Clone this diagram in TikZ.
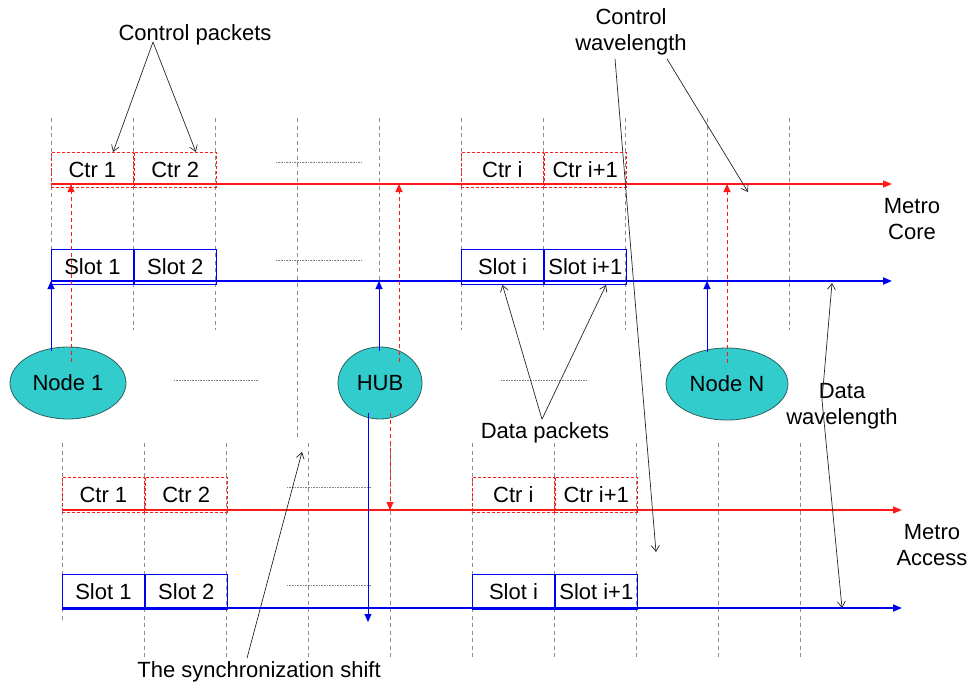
\documentclass[tikz,border=0pt]{standalone}
\usepackage{fontspec}
\setmainfont{Liberation Sans}
\usetikzlibrary{arrows.meta,positioning,shapes.geometric,calc}

\definecolor{nodefill}{HTML}{33CCCC}
\definecolor{nodeedge}{HTML}{2E6262}
\definecolor{ctrred}{HTML}{FF1A1A}
\definecolor{datablue}{HTML}{0000F0}

\tikzset{
    grid line/.style={gray!90,dash pattern=on 4pt off 3.5pt,line width=0.6pt},
    sepline/.style={gray,dash pattern=on 1pt off 0.6pt,line width=0.9pt},
    ctrbox/.style={draw=ctrred,dash pattern=on 3pt off 2pt,line width=0.8pt,
        minimum width=82pt,minimum height=35pt,inner sep=0pt},
    slotbox/.style={draw=datablue,line width=0.9pt,
        minimum width=82pt,minimum height=35pt,inner sep=0pt},
    ctrline/.style={ctrred,line width=1.1pt,-{Triangle[length=9pt,width=7pt]}},
    dataline/.style={datablue,line width=2pt,-{Triangle[length=9pt,width=7pt]}},
    ctrarrow/.style={ctrred,dash pattern=on 4pt off 3pt,line width=1pt,-{Triangle[length=8pt,width=7pt]}},
    dataarrow/.style={datablue,line width=1pt,-{Triangle[length=8pt,width=7pt]}},
    station/.style={ellipse,draw=nodeedge,fill=nodefill,line width=0.8pt,
        minimum height=72pt,inner sep=0pt},
    note/.style={black!85,line width=0.7pt,-{Straight Barb[length=6pt,width=8pt]}},
}

\begin{document}
\begin{tikzpicture}[x=1pt,y=-1pt,font=\fontsize{22}{26}\selectfont]
    \useasboundingbox (0,0) rectangle (972,691);

    % slot grid on the core ring and on the access ring
    \foreach \k in {0,...,9}{
        \coordinate (t\k) at ({51+82*\k},118);
        \coordinate (b\k) at ({62+82*\k},443);
    }
    \foreach \k in {0,1,2,4,5,6,7,8,9}
        \draw[grid line] (t\k) -- ++(0,212);
    \draw[grid line] (t3) -- ++(0,320);
    \foreach \k in {1,...,9}
        \draw[grid line] (b\k) -- ++(0,214);
    \draw[grid line] (b0) -- ++(0,179);

    % wavelengths
    \coordinate (coreCtr) at (51,184);  \coordinate (coreCtrEnd) at (892,184);
    \coordinate (coreData) at (51,281); \coordinate (coreDataEnd) at (892,281);
    \coordinate (accCtr) at (62,510);   \coordinate (accCtrEnd) at (902,510);
    \coordinate (accData) at (62,608);  \coordinate (accDataEnd) at (902,608);

    % Metro Core
    \node[ctrbox,anchor=north west] (c1) at (51,152) {Ctr 1};
    \node[ctrbox,right=0pt of c1] (c2) {Ctr 2};
    \node[ctrbox,anchor=north west] (ci) at (461,152) {Ctr i};
    \node[ctrbox,right=0pt of ci] (ci1) {Ctr i+1};
    \node[slotbox,anchor=north west] (s1) at (51,249) {Slot 1};
    \node[slotbox,right=0pt of s1] (s2) {Slot 2};
    \node[slotbox,anchor=north west] (si) at (461,249) {Slot i};
    \node[slotbox,right=0pt of si] (si1) {Slot i+1};
    \draw[ctrline] (coreCtr) -- (coreCtrEnd);
    \draw[dataline] (coreData) -- (coreDataEnd);

    % Metro Access
    \node[ctrbox,anchor=north west] (ac1) at (62,477) {Ctr 1};
    \node[ctrbox,right=0pt of ac1] (ac2) {Ctr 2};
    \node[ctrbox,anchor=north west] (aci) at (472,477) {Ctr i};
    \node[ctrbox,right=0pt of aci] (aci1) {Ctr i+1};
    \node[slotbox,anchor=north west] (as1) at (62,574) {Slot 1};
    \node[slotbox,right=0pt of as1] (as2) {Slot 2};
    \node[slotbox,anchor=north west] (asi) at (472,574) {Slot i};
    \node[slotbox,right=0pt of asi] (asi1) {Slot i+1};
    \draw[ctrline] (accCtr) -- (accCtrEnd);
    \draw[dataline] (accData) -- (accDataEnd);

    \foreach \y in {162,260}
        \draw[sepline] (276,\y) -- ++(85,0);
    \foreach \y in {487,585}
        \draw[sepline] (287,\y) -- ++(84,0);
    \draw[sepline] (174,380) -- ++(84,0);
    \draw[sepline] (501,380) -- ++(85,0);

    % nodes on the ring
    \node[station,minimum width=116pt] (node1) at (68,383) {Node 1};
    \node[station,minimum width=84pt] (hub) at (380,383) {HUB};
    \node[station,minimum width=122pt] (nodeN) at (727,384) {Node N};

    \foreach \n/\k in {node1/0,hub/4,nodeN/8}{
        \draw[dataarrow] ([yshift=-4pt]\n.north -| t\k) -- (t\k |- coreData);
        \draw[ctrarrow] ([xshift=20pt,yshift=-15pt]\n.north -| t\k) -- ([xshift=20pt]t\k |- coreCtr);
    }
    \coordinate (hubDown) at (368,622);
    \draw[dataarrow] ([yshift=6pt]hub.south -| hubDown) -- (hubDown);
    \draw[ctrarrow] ([yshift=6pt]hub.south -| b4) -- (b4 |- accCtr);

    % labels
    \node (ctrpk) at (195,35) {Control packets};
    \node[align=center] (ctrwl) at (631,32) {Control\\wavelength};
    \node[align=center] (core) at (912,219) {Metro\\Core};
    \node[align=center] (acc) at (932,545) {Metro\\Access};
    \node (datapk) at (545,433) {Data packets};
    \node[align=center] (datawl) at (842,406) {Data\\wavelength};
    \node (sync) at (259,672) {The synchronization shift};

    \draw[note] ([xshift=-42pt,yshift=-7pt]ctrpk.center) -- ($(c1.north)!.5!(c1.north east)$);
    \draw[note] ([xshift=-42pt,yshift=-7pt]ctrpk.center) -- ($(c2.north)!.5!(c2.north east)$);

    \coordinate (cwAcc) at (656,552);
    \coordinate (cwCore) at (748,192);
    \draw[note] ([xshift=-16pt]ctrwl.south) -- (cwAcc);
    \draw[note] ([xshift=36pt]ctrwl.south) -- (cwCore);

    \draw[note] ([xshift=-3pt]datapk.north) -- (si.south);
    \draw[note] ([xshift=-3pt]datapk.north) -- ($(si1.south)!.5!(si1.south east)$);

    \coordinate (dwMid) at ([xshift=-20pt,yshift=6pt]datawl.center);
    \coordinate (dwCore) at (832,283);
    \coordinate (dwAcc) at (842,608);
    \draw[note] (dwMid) -- (dwCore);
    \draw[note] (dwMid) -- (dwAcc);

    \coordinate (syncTip) at (302,452);
    \draw[note] ([xshift=-12pt]sync.north) -- (syncTip);
\end{tikzpicture}
\end{document}
